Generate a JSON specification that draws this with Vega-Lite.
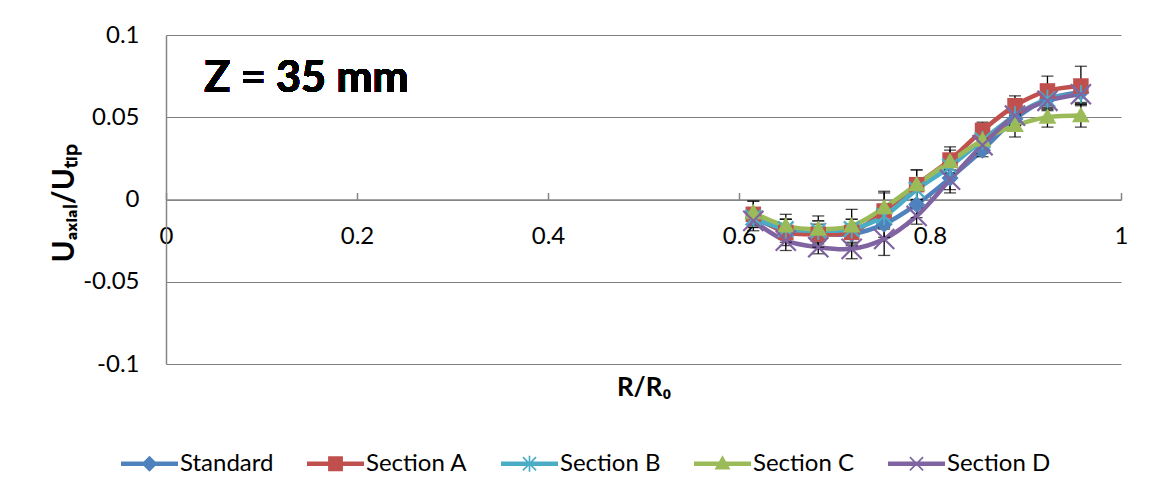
{
  "$schema": "https://vega.github.io/schema/vega-lite/v6.json",
  "autosize": "none",
  "width": 955,
  "height": 329,
  "padding": {"left": 166, "top": 35, "right": 34, "bottom": 136},
  "background": "white",
  "config": {
    "font": "Lato",
    "view": {"stroke": null},
    "axis": {"labelFont": "Lato", "labelFontSize": 24, "labelColor": "#000000", "titleFont": "Lato", "titleFontSize": 26, "titleFontWeight": "bold", "titleColor": "#000000"}
  },
  "data": {
    "values": [
      {"series": "Standard", "x": 0.615, "y": -0.011, "err": 0.006},
      {"series": "Standard", "x": 0.649, "y": -0.019, "err": 0.007},
      {"series": "Standard", "x": 0.683, "y": -0.021, "err": 0.006},
      {"series": "Standard", "x": 0.718, "y": -0.021, "err": 0.006},
      {"series": "Standard", "x": 0.752, "y": -0.015, "err": 0.008},
      {"series": "Standard", "x": 0.786, "y": -0.003, "err": 0.008},
      {"series": "Standard", "x": 0.821, "y": 0.013, "err": 0.009},
      {"series": "Standard", "x": 0.855, "y": 0.030, "err": 0.004},
      {"series": "Standard", "x": 0.889, "y": 0.049, "err": 0.006},
      {"series": "Standard", "x": 0.923, "y": 0.061, "err": 0.006},
      {"series": "Standard", "x": 0.958, "y": 0.065, "err": 0.006},
      {"series": "Section A", "x": 0.615, "y": -0.009, "err": 0.008},
      {"series": "Section A", "x": 0.649, "y": -0.020, "err": 0.008},
      {"series": "Section A", "x": 0.683, "y": -0.021, "err": 0.008},
      {"series": "Section A", "x": 0.718, "y": -0.020, "err": 0.008},
      {"series": "Section A", "x": 0.752, "y": -0.007, "err": 0.011},
      {"series": "Section A", "x": 0.786, "y": 0.009, "err": 0.009},
      {"series": "Section A", "x": 0.821, "y": 0.024, "err": 0.008},
      {"series": "Section A", "x": 0.855, "y": 0.042, "err": 0.005},
      {"series": "Section A", "x": 0.889, "y": 0.057, "err": 0.006},
      {"series": "Section A", "x": 0.923, "y": 0.066, "err": 0.009},
      {"series": "Section A", "x": 0.958, "y": 0.069, "err": 0.012},
      {"series": "Section B", "x": 0.615, "y": -0.011, "err": 0.005},
      {"series": "Section B", "x": 0.649, "y": -0.018, "err": 0.006},
      {"series": "Section B", "x": 0.683, "y": -0.019, "err": 0.006},
      {"series": "Section B", "x": 0.718, "y": -0.018, "err": 0.006},
      {"series": "Section B", "x": 0.752, "y": -0.010, "err": 0.007},
      {"series": "Section B", "x": 0.786, "y": 0.006, "err": 0.007},
      {"series": "Section B", "x": 0.821, "y": 0.020, "err": 0.007},
      {"series": "Section B", "x": 0.855, "y": 0.036, "err": 0.005},
      {"series": "Section B", "x": 0.889, "y": 0.051, "err": 0.006},
      {"series": "Section B", "x": 0.923, "y": 0.061, "err": 0.006},
      {"series": "Section B", "x": 0.958, "y": 0.064, "err": 0.006},
      {"series": "Section C", "x": 0.615, "y": -0.008, "err": 0.007},
      {"series": "Section C", "x": 0.649, "y": -0.016, "err": 0.007},
      {"series": "Section C", "x": 0.683, "y": -0.018, "err": 0.008},
      {"series": "Section C", "x": 0.718, "y": -0.016, "err": 0.010},
      {"series": "Section C", "x": 0.752, "y": -0.005, "err": 0.010},
      {"series": "Section C", "x": 0.786, "y": 0.009, "err": 0.009},
      {"series": "Section C", "x": 0.821, "y": 0.023, "err": 0.007},
      {"series": "Section C", "x": 0.855, "y": 0.036, "err": 0.006},
      {"series": "Section C", "x": 0.889, "y": 0.045, "err": 0.007},
      {"series": "Section C", "x": 0.923, "y": 0.050, "err": 0.006},
      {"series": "Section C", "x": 0.958, "y": 0.051, "err": 0.007},
      {"series": "Section D", "x": 0.615, "y": -0.013, "err": 0.006},
      {"series": "Section D", "x": 0.649, "y": -0.025, "err": 0.006},
      {"series": "Section D", "x": 0.683, "y": -0.029, "err": 0.004},
      {"series": "Section D", "x": 0.718, "y": -0.030, "err": 0.006},
      {"series": "Section D", "x": 0.752, "y": -0.024, "err": 0.010},
      {"series": "Section D", "x": 0.786, "y": -0.010, "err": 0.005},
      {"series": "Section D", "x": 0.821, "y": 0.012, "err": 0.006},
      {"series": "Section D", "x": 0.855, "y": 0.033, "err": 0.005},
      {"series": "Section D", "x": 0.889, "y": 0.051, "err": 0.006},
      {"series": "Section D", "x": 0.923, "y": 0.060, "err": 0.006},
      {"series": "Section D", "x": 0.958, "y": 0.064, "err": 0.006}
    ]
  },
  "encoding": {
    "x": {
      "field": "x", "type": "quantitative",
      "scale": {"domain": [0, 1], "nice": false, "zero": false},
      "axis": {
        "orient": "bottom", "offset": -164.5, "values": [0, 0.2, 0.4, 0.6, 0.8, 1], "format": "~g",
        "grid": false, "domainColor": "#868686", "domainWidth": 1.5, "tickColor": "#868686", "tickSize": -7, "tickWidth": 1.5,
        "labelPadding": 32, "labelFlush": false, "labelOverlap": false,
        "title": "R/R₀", "titleY": 188, "titleBaseline": "middle"
      }
    },
    "y": {
      "field": "y", "type": "quantitative",
      "scale": {"domain": [-0.1, 0.1], "nice": false},
      "axis": {
        "values": [-0.1, -0.05, 0, 0.05, 0.1], "format": "~g",
        "labelExpr": "replace(datum.label, '−', '-')",
        "grid": true, "gridColor": "#7f7f7f", "gridWidth": 1.2, "domainColor": "#868686", "domainWidth": 1.5,
        "ticks": false, "labelPadding": 27,
        "title": "Uₐₓᵢₐₗ/Uₜᵢₚ", "titleFontSize": 30, "titleX": -102, "titleY": 168, "titleBaseline": "middle", "titleAlign": "center", "titleAngle": -90
      }
    }
  },
  "layer": [
    {
      "mark": {"type": "line", "interpolate": "catmull-rom", "strokeWidth": 4.5},
      "encoding": {
        "color": {"field": "series", "type": "nominal", "legend": null,
          "scale": {"domain": ["Standard", "Section A", "Section B", "Section C", "Section D"], "range": ["#4F81BD", "#C0504D", "#4BACC6", "#9BBB59", "#8064A2"]}}
      }
    },
    {
      "mark": {"type": "errorbar", "color": "black", "thickness": 1.3, "ticks": {"size": 12, "color": "black", "thickness": 1.3}},
      "encoding": {
        "yError": {"field": "err"}
      }
    },
    {
      "mark": {"type": "point", "filled": true, "opacity": 1, "size": 240},
      "encoding": {
        "color": {"field": "series", "type": "nominal", "legend": null,
          "scale": {"domain": ["Standard", "Section A", "Section B", "Section C", "Section D"], "range": ["#4F81BD", "#C0504D", "#4BACC6", "#9BBB59", "#8064A2"]}},
        "shape": {"field": "series", "type": "nominal", "legend": null,
          "scale": {"domain": ["Standard", "Section A", "Section B", "Section C", "Section D"],
            "range": [
              "M0,-1.1L1.1,0L0,1.1L-1.1,0Z",
              "M-1,-1H1V1H-1Z",
              "M-0.12,-1.2H0.12V1.2H-0.12Z M-0.9,-1.1L1.1,0.9L0.9,1.1L-1.1,-0.9Z M1.1,-0.9L-0.9,1.1L-1.1,0.9L0.9,-1.1Z",
              "M0,-1.15L1.15,0.85H-1.15Z",
              "M-1.2,-1.4L1.4,1.2L1.2,1.4L-1.4,-1.2Z M1.4,-1.2L-1.2,1.4L-1.4,1.2L1.2,-1.4Z"
            ]}}
      }
    },
    {
      "transform": [{"filter": "datum.x > 5"}],
      "mark": {"type": "point", "filled": true, "opacity": 1},
      "encoding": {
        "color": {"field": "series", "type": "nominal",
          "scale": {"domain": ["Standard", "Section A", "Section B", "Section C", "Section D"], "range": ["#4F81BD", "#C0504D", "#4BACC6", "#9BBB59", "#8064A2"]},
          "legend": {"orient": "none", "legendX": -45, "legendY": 400, "direction": "horizontal", "columns": 5, "title": null,
            "symbolSize": 3249, "symbolStrokeWidth": 0, "labelFont": "Lato", "labelFontSize": 24, "labelColor": "#000000", "labelOffset": 2, "columnPadding": 33, "labelLimit": 300}},
        "shape": {"field": "series", "type": "nominal",
          "scale": {"domain": ["Standard", "Section A", "Section B", "Section C", "Section D"],
            "range": [
              "M-1,-0.075H1V0.075H-1Z M0,-0.28L0.28,0L0,0.28L-0.28,0Z",
              "M-1,-0.075H1V0.075H-1Z M-0.26,-0.26H0.26V0.26H-0.26Z",
              "M-1,-0.075H1V0.075H-1Z M-0.03,-0.28H0.03V0.28H-0.03Z M-0.209,-0.251L0.251,0.209L0.209,0.251L-0.251,-0.209Z M0.251,-0.209L-0.209,0.251L-0.251,0.209L0.209,-0.251Z",
              "M-1,-0.075H1V0.075H-1Z M0,-0.3L0.28,0.2H-0.28Z",
              "M-1,-0.075H1V0.075H-1Z M-0.209,-0.251L0.251,0.209L0.209,0.251L-0.251,-0.209Z M0.251,-0.209L-0.209,0.251L-0.251,0.209L0.209,-0.251Z"
            ]},
          "legend": {"orient": "none", "legendX": -45, "legendY": 400, "direction": "horizontal", "columns": 5, "title": null,
            "symbolSize": 3249, "symbolStrokeWidth": 0, "labelFont": "Lato", "labelFontSize": 24, "labelColor": "#000000", "labelOffset": 2, "columnPadding": 33, "labelLimit": 300}}
      }
    },
    {
      "mark": {"type": "text", "text": "Z = 35 mm", "font": "Lato", "fontSize": 43, "fontWeight": "bold", "align": "left", "baseline": "middle", "color": "#000000"},
      "encoding": {
        "x": {"datum": 0.04},
        "y": {"datum": 0.0735}
      }
    }
  ],
  "resolve": {"scale": {"color": "independent", "shape": "independent"}, "legend": {"color": "independent", "shape": "independent"}}
}
